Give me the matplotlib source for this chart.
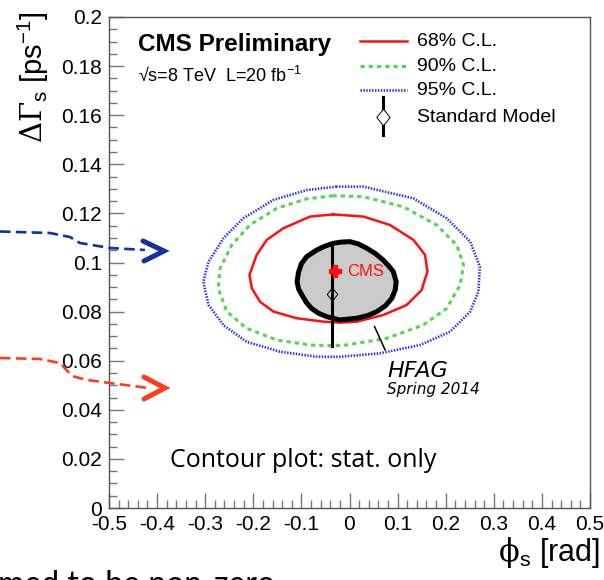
import numpy as np
import matplotlib
matplotlib.use("Agg")
import matplotlib.pyplot as plt
from matplotlib.ticker import MultipleLocator, FuncFormatter

plt.rcParams['font.family'] = ['Liberation Sans', 'DejaVu Sans']
plt.rcParams['mathtext.fontset'] = 'custom'
plt.rcParams['mathtext.rm'] = 'DejaVu Serif'
plt.rcParams['mathtext.sf'] = 'Liberation Sans'
plt.rcParams['mathtext.it'] = 'DejaVu Serif:italic'

# contours (phi_s [rad], DeltaGamma_s [ps^-1])
cl95_phi = [-0.027, -0.089, -0.158, -0.221, -0.262, -0.293, -0.304, -0.293, -0.262, -0.214, -0.145, -0.068,
            -0.020, 0.063, 0.147, 0.209, 0.251, 0.268, 0.271, 0.251, 0.202, 0.133, 0.029]
cl95_dg = [0.1309, 0.1295, 0.1255, 0.1180, 0.1099, 0.1003, 0.0922, 0.0827, 0.0745, 0.0677, 0.0637, 0.0616,
           0.0616, 0.0630, 0.0664, 0.0718, 0.0800, 0.0881, 0.0983, 0.1085, 0.1180, 0.1261, 0.1309]

cl90_phi = [-0.034, -0.089, -0.151, -0.207, -0.245, -0.269, -0.273, -0.255, -0.214, -0.151, -0.082, -0.034,
            -0.006, 0.077, 0.153, 0.202, 0.230, 0.237, 0.223, 0.181, 0.112, 0.029]
cl90_dg = [0.1272, 0.1259, 0.1221, 0.1153, 0.1071, 0.0976, 0.0895, 0.0800, 0.0732, 0.0684, 0.0664, 0.0661,
           0.0664, 0.0691, 0.0745, 0.0813, 0.0908, 0.0990, 0.1071, 0.1153, 0.1227, 0.1268]

cl68_phi = [-0.034, -0.082, -0.138, -0.172, -0.193, -0.208, -0.203, -0.186, -0.158, -0.110, -0.054, -0.020,
            0.015, 0.070, 0.119, 0.150, 0.162, 0.157, 0.133, 0.084, 0.029]
cl68_dg = [0.1196, 0.1187, 0.1139, 0.1092, 0.1031, 0.0949, 0.0895, 0.0840, 0.0800, 0.0773, 0.0759, 0.0755,
           0.0759, 0.0786, 0.0827, 0.0888, 0.0963, 0.1031, 0.1092, 0.1153, 0.1187]

hfag_phi = [-0.034, -0.052, -0.068, -0.089, -0.100, -0.106, -0.109, -0.106, -0.099, -0.090, -0.079, -0.064,
            -0.047, -0.020, 0.015, 0.038, 0.057, 0.075, 0.088, 0.095, 0.097, 0.091, 0.082, 0.070, 0.054,
            0.036, 0.018, 0.001, -0.018]
hfag_dg = [0.1078, 0.1066, 0.1051, 0.1024, 0.0995, 0.0960, 0.0922, 0.0893, 0.0868, 0.0838, 0.0813, 0.0793,
           0.0779, 0.0766, 0.0773, 0.0784, 0.0800, 0.0824, 0.0854, 0.0888, 0.0922, 0.0963, 0.0985, 0.1010,
           0.1036, 0.1058, 0.1076, 0.1085, 0.1083]

cms_phi, cms_dg = -0.030, 0.0965
sm_phi, sm_dg, sm_err = -0.036, 0.087, 0.021

legend_labels = ["68% C.L.", "90% C.L.", "95% C.L.", "Standard Model"]
x_ticks = [-0.5, -0.4, -0.3, -0.2, -0.1, 0, 0.1, 0.2, 0.3, 0.4, 0.5]
y_ticks = [0, 0.02, 0.04, 0.06, 0.08, 0.1, 0.12, 0.14, 0.16, 0.18, 0.2]

# slide arrows, figure pixels
blue_arrow_x = [0, 50, 70, 80, 110, 145]
blue_arrow_y = [231.5, 233, 237, 243, 248, 250]
blue_head_x = [143, 164, 144]
blue_head_y = [241, 251, 261]
red_arrow_x = [0, 40, 60, 72, 87, 133, 148]
red_arrow_y = [358, 359, 363, 376, 380, 386, 388]
red_head_x = [144, 165, 144]
red_head_y = [377, 388, 399]

fig = plt.figure(figsize=(6.04, 5.8), dpi=100)
ax = fig.add_axes([109 / 604, 1 - 508 / 580, 481 / 604, 491 / 580])

ax.plot(cl95_phi + cl95_phi[:1], cl95_dg + cl95_dg[:1], color='#2b2bff', lw=1.9,
        dashes=(0.55, 0.55), zorder=2)
ax.plot(cl90_phi + cl90_phi[:1], cl90_dg + cl90_dg[:1], color='#55d555', lw=2.2,
        dashes=(1.4, 1.3), zorder=2)
ax.plot(cl68_phi + cl68_phi[:1], cl68_dg + cl68_dg[:1], color='#ff1010', lw=1.8, zorder=2)
ax.fill(hfag_phi, hfag_dg, facecolor='#cbcbcb', edgecolor='black', lw=3.6, joinstyle='round', zorder=3)

diamond = [(0, 1), (0.8, 0), (0, -1), (-0.8, 0), (0, 1)]
ax.plot([sm_phi, sm_phi], [sm_dg - sm_err, sm_dg + sm_err], color='black', lw=2.2, zorder=4)
ax.plot(sm_phi, sm_dg, marker=diamond, ms=9.5, mfc='none', mec='black', mew=0.7, zorder=5)
ax.plot(cms_phi, cms_dg, marker='P', ms=8.5, color='#ff1010', mec='#ff1010', zorder=6)
ax.text(cms_phi + 0.026, cms_dg, "CMS", color='#ff1010', fontsize=12, va='center', ha='left', zorder=6)

ax.plot([0.052, 0.074], [0.0739, 0.0644], color='black', lw=1.1)
ax.text(0.078, 0.0534, "HFAG", family='DejaVu Sans', style='italic', fontsize=16, va='baseline')
ax.text(0.078, 0.0464, "Spring 2014", family='DejaVu Sans', style='italic', fontsize=11, va='baseline')
ax.text(-0.374, 0.0167, "Contour plot: stat. only", family='Open Sans', fontsize=18, va='baseline')

ax.text(-0.44, 0.186, "CMS Preliminary", fontsize=17.5, fontweight='bold', va='baseline')
ax.text(-0.44, 0.1735, r"√s=8 TeV  L=20 fb$^{\mathsf{-1}}$", fontsize=13, va='baseline')

# legend drawn by hand
lx0, lx1, ltx = 0.522, 0.620, 0.640
ly = [0.951, 0.900, 0.851, 0.796]
tr = ax.transAxes
ax.plot([lx0, lx1], [ly[0]] * 2, transform=tr, color='#ff1010', lw=1.8)
ax.plot([lx0, lx1], [ly[1]] * 2, transform=tr, color='#55d555', lw=2.2, dashes=(1.4, 1.3))
ax.plot([lx0, lx1], [ly[2]] * 2, transform=tr, color='#2b2bff', lw=1.9, dashes=(0.55, 0.55))
ax.plot([0.570, 0.570], [0.760, 0.837], transform=tr, color='black', lw=2.2)
ax.plot(0.570, ly[3], transform=tr, marker=diamond, ms=12, mfc='white', mec='black', mew=0.7)
for y, lab in zip(ly, legend_labels):
    ax.text(ltx, y, lab, transform=tr, fontsize=14, va='center')

ax.set_xlim(-0.5, 0.5)
ax.set_ylim(0, 0.2)
ax.set_xticks(x_ticks)
ax.set_yticks(y_ticks)
ax.xaxis.set_minor_locator(MultipleLocator(0.02))
ax.yaxis.set_minor_locator(MultipleLocator(0.005))
fmt = FuncFormatter(lambda v, p: "%g" % round(v, 3))
ax.xaxis.set_major_formatter(fmt)
ax.yaxis.set_major_formatter(fmt)
ax.tick_params(which='both', direction='in', top=False, right=False, color='#777777', width=1,
               labelsize=15, pad=5)
ax.tick_params(which='major', length=11)
ax.tick_params(which='minor', length=6)
for s in ax.spines.values():
    s.set_color('#555555')
    s.set_linewidth(1)

fig.text(33 / 604, 1 - 11 / 580, r"$\mathrm{ΔΓ}_{\mathsf{s}}$ [ps$^{\mathsf{-1}}$]", rotation=90,
         ha='center', va='top', fontsize=21)
fig.text(600 / 604, 1 - 552 / 580, r"$\mathrm{ϕ}_{\mathsf{s}}$ [rad]", ha='right', va='center', fontsize=22)

# overlay for the slide arrows and cut-off caption
ov = fig.add_axes([0, 0, 1, 1], zorder=5)
ov.set_xlim(0, 604)
ov.set_ylim(580, 0)
ov.axis('off')
ov.patch.set_alpha(0)
ov.plot(blue_arrow_x, blue_arrow_y, color='#1530a0', lw=1.9, dashes=(4, 2))
ov.plot(blue_head_x, blue_head_y, color='#1530a0', lw=3.6, solid_capstyle='round', solid_joinstyle='miter')
ov.plot(red_arrow_x, red_arrow_y, color='#ff3d1a', lw=1.9, dashes=(4, 2))
ov.plot(red_head_x, red_head_y, color='#ff3d1a', lw=3.6, solid_capstyle='round', solid_joinstyle='miter')
ov.text(-2, 594, "med to be non-zero", family='Lato', fontsize=23, va='baseline', ha='left')

fig.savefig("out.png", dpi=100)
